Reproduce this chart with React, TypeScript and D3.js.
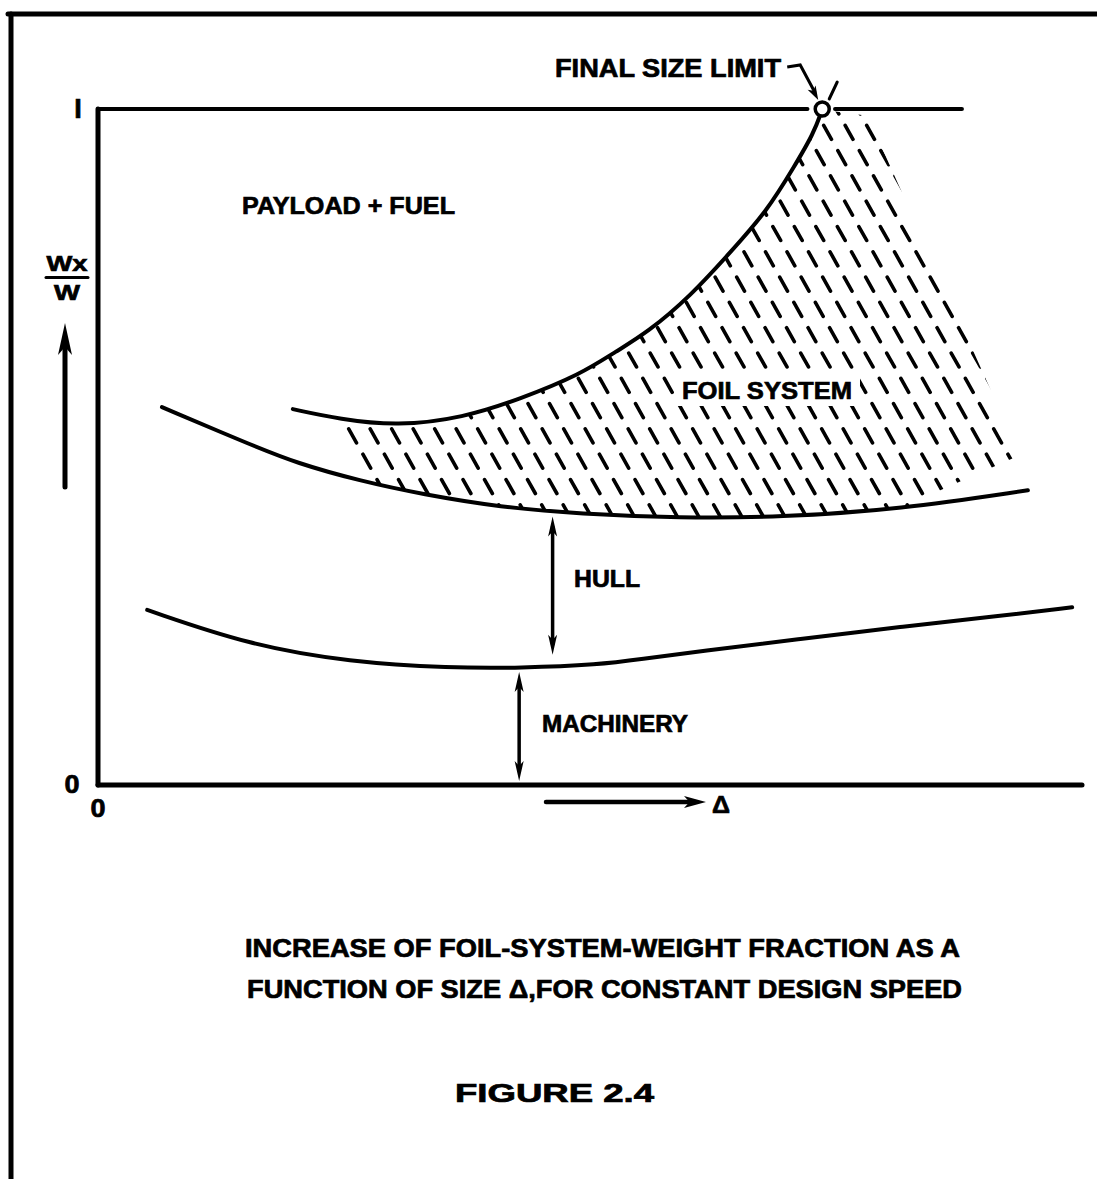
import React, { useEffect, useRef } from "react";
import * as d3 from "d3";

// x = size Δ (arbitrary units, 0-100), y = weight fraction Wx/W (0-1)
const foilTopX = [19.8, 24.6, 30.4, 37.1, 42.9, 49.0, 52.7, 55.8, 60.2, 64.2, 68.0, 70.8, 72.7, 73.6];
const foilTopY = [0.556, 0.541, 0.531, 0.543, 0.571, 0.607, 0.642, 0.669, 0.723, 0.787, 0.849, 0.916, 0.963, 0.999];

const hullX = [6.5, 15.4, 20.2, 26.6, 33.0, 40.9, 49.0, 59.1, 69.3, 81.5, 94.5];
const hullY = [0.559, 0.504, 0.476, 0.45, 0.43, 0.411, 0.401, 0.395, 0.396, 0.408, 0.436];

const machX = [5.0, 15.4, 25.6, 35.8, 42.9, 51.0, 55.1, 61.2, 71.4, 81.5, 91.7, 99.0];
const machY = [0.259, 0.207, 0.182, 0.173, 0.173, 0.178, 0.186, 0.198, 0.216, 0.234, 0.25, 0.263];

// right-hand edge of the dashed foil-system band
const hatchEdgeX = [78.2, 93.7, 85.6];
const hatchEdgeY = [0.99, 0.488, 0.436];

const limitX = 73.6; // final size limit (foil curve reaches 1)
const topLineEnd = 87.8;
const hullArrowX = 46.2;
const machArrowX = 42.8;

const captionLines = [
  "INCREASE OF FOIL-SYSTEM-WEIGHT FRACTION AS A",
  "FUNCTION OF SIZE Δ,FOR CONSTANT DESIGN SPEED",
];
const figureLabel = "FIGURE 2.4";

function Figure() {
  const ref = useRef<SVGSVGElement>(null);

  function draw() {
    const svg = d3.select(ref.current);
    svg.selectAll("*").remove();

    const x = d3.scaleLinear().domain([0, 100]).range([98, 1082]);
    const y = d3.scaleLinear().domain([0, 1]).range([785, 109]);

    const curve = d3
      .line<number[]>()
      .x((d) => x(d[0]))
      .y((d) => y(d[1]))
      .curve(d3.curveBasis);

    const zip = (xs: number[], ys: number[]) => xs.map((v, i) => [v, ys[i]]);
    const foil = zip(foilTopX, foilTopY);
    const hull = zip(hullX, hullY);
    const mach = zip(machX, machY);
    const edge = zip(hatchEdgeX, hatchEdgeY);

    const hullAt = d3.scaleLinear().domain(hullX).range(hullY);
    const machAt = d3.scaleLinear().domain(machX).range(machY);

    const ink = "#000";
    const font = "'Liberation Sans', Arial, sans-serif";

    const seg = (x1: number, y1: number, x2: number, y2: number, w: number) =>
      svg
        .append("line")
        .attr("x1", x1)
        .attr("y1", y1)
        .attr("x2", x2)
        .attr("y2", y2)
        .attr("stroke", ink)
        .attr("stroke-width", w)
        .attr("stroke-linecap", "round");

    const head = (tx: number, ty: number, dx: number, dy: number, len: number, hw: number) => {
      const n = Math.hypot(dx, dy);
      const ux = dx / n,
        uy = dy / n;
      const bx = tx - ux * len,
        by = ty - uy * len;
      const pts = [
        [tx, ty],
        [bx - uy * hw, by + ux * hw],
        [tx - ux * len * 0.75, ty - uy * len * 0.75],
        [bx + uy * hw, by - ux * hw],
      ];
      svg.append("polygon").attr("points", pts.map((p) => p.join(",")).join(" ")).attr("fill", ink);
    };

    const label = (t: string, lx: number, ly: number, len: number | null, size: number, anchor = "start") => {
      const el = svg
        .append("text")
        .attr("x", lx)
        .attr("y", ly)
        .attr("font-family", font)
        .attr("font-weight", "bold")
        .attr("font-size", size)
        .attr("text-anchor", anchor)
        .attr("fill", ink)
        .attr("stroke", ink)
        .attr("stroke-width", 0.7)
        .text(t);
      if (len) el.attr("textLength", len).attr("lengthAdjust", "spacingAndGlyphs");
      return el;
    };

    // page frame from the scan
    seg(8, 14, 1097, 14, 5);
    seg(11, 14, 11, 1179, 5);

    // hatch region for the foil system
    const clipD =
      curve(foil.filter((d) => d[0] >= 24)) +
      "L" +
      edge.map((p) => x(p[0]) + "," + y(p[1])).join("L") +
      "L" +
      (curve(hull.filter((d) => d[0] >= 26 && d[0] <= 82).reverse()) as string).slice(1) +
      "Z";
    svg.append("clipPath").attr("id", "foilClip").append("path").attr("d", clipD);

    const hatch = svg.append("g").attr("clip-path", "url(#foilClip)");
    const slope = 0.56;
    for (let k = 0; k < 40; k++) {
      const x0 = 100 + k * 21.5;
      hatch
        .append("line")
        .attr("x1", x0)
        .attr("y1", 100)
        .attr("x2", x0 + 440 * slope)
        .attr("y2", 540)
        .attr("stroke", ink)
        .attr("stroke-width", 3.6)
        .attr("stroke-linecap", "round")
        .attr("stroke-dasharray", "16 13");
    }
    // clear the hatching behind the label
    svg
      .append("rect")
      .attr("x", 674)
      .attr("y", 376)
      .attr("width", 186)
      .attr("height", 30)
      .attr("fill", "#fff");

    // axes and the Wx/W = 1 line
    seg(x(0), y(0), x(0), y(1), 5);
    seg(x(0), y(0), x(100), y(0), 5);
    seg(x(0), y(1), x(limitX - 1.5), y(1), 4);
    seg(x(limitX + 1.3), y(1), x(topLineEnd), y(1), 4);

    // curves
    [foil, hull, mach].forEach((pts) => {
      svg
        .append("path")
        .attr("d", curve(pts))
        .attr("fill", "none")
        .attr("stroke", ink)
        .attr("stroke-width", 4)
        .attr("stroke-linecap", "round");
    });

    // final size limit marker
    const cx = x(limitX),
      cy = y(1);
    seg(cx + 7, cy - 10, cx + 15, cy - 27, 3);
    svg
      .append("path")
      .attr("d", `M${cx - 35},${cy - 42} L${cx - 22},${cy - 44} L${cx - 7},${cy - 16}`)
      .attr("fill", "none")
      .attr("stroke", ink)
      .attr("stroke-width", 3);
    head(cx - 4, cy - 9, 15, 28, 14, 4.5);
    svg
      .append("circle")
      .attr("cx", cx)
      .attr("cy", cy)
      .attr("r", 7)
      .attr("fill", "#fff")
      .attr("stroke", ink)
      .attr("stroke-width", 3.5);

    // hull and machinery dimension arrows
    const hx = x(hullArrowX);
    const hTop = y(hullAt(hullArrowX)) + 5,
      hBot = y(machAt(hullArrowX)) - 12;
    seg(hx, hTop + 10, hx, hBot - 10, 3.5);
    head(hx, hTop, 0, -1, 20, 4.5);
    head(hx, hBot, 0, 1, 20, 4.5);

    const mx = x(machArrowX);
    const mTop = y(machAt(machArrowX)) + 4,
      mBot = y(0) - 4;
    seg(mx, mTop + 10, mx, mBot - 10, 3.5);
    head(mx, mTop, 0, -1, 20, 4.5);
    head(mx, mBot, 0, 1, 20, 4.5);

    // y axis direction arrow
    seg(65, 487, 65, 340, 5);
    head(65, 323, 0, -1, 32, 7);

    // x axis direction arrow
    seg(546, 802, 690, 802, 4.5);
    head(706, 802, 1, 0, 22, 6);

    // tick labels
    label("I", 78, 118, null, 27, "middle");
    label("0", 72, 793, 15, 25, "middle");
    label("0", 98, 817, 15, 25, "middle");
    label("Δ", 721, 813, 18, 24, "middle");

    // Wx / W
    label("Wx", 67, 271, 41, 22, "middle");
    seg(46, 277.5, 88, 277.5, 3);
    label("W", 67, 300, 26, 22, "middle");

    // region labels
    label("FINAL SIZE LIMIT", 555, 77, 226, 25);
    label("PAYLOAD + FUEL", 242, 214, 213, 24);
    label("FOIL SYSTEM", 682, 399, 170, 24);
    label("HULL", 574, 587, 66, 24);
    label("MACHINERY", 542, 732, 146, 24);

    // caption
    label(captionLines[0], 245, 957, 715, 25);
    label(captionLines[1], 247, 998, 715, 25);
    label(figureLabel, 455, 1102, 199, 25);
  }

  useEffect(() => {
    document.body.style.margin = "0";
    draw();
  }, []);

  return (
    <svg
      ref={ref}
      width={1097}
      height={1179}
      style={{ display: "block", background: "#fff" }}
    ></svg>
  );
}

export default function App() {
  return <Figure />;
}
